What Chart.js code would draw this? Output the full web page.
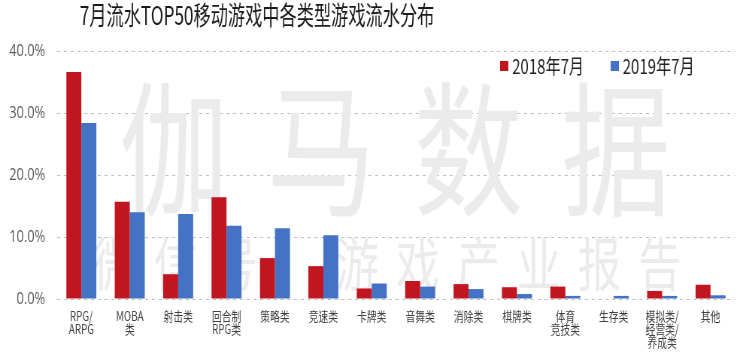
<!DOCTYPE html>
<html lang="zh-CN">
<head>
    <meta charset="UTF-8">
    <title>7月流水TOP50移动游戏中各类型游戏流水分布</title>
    <script src="https://cdn.jsdelivr.net/npm/chart.js@4.4.1/dist/chart.umd.min.js"></script>
    <style>
        html, body { margin: 0; padding: 0; background: #fff; overflow: hidden; }
        /* the source picture is squeezed sideways, so draw wide and compress */
        .wrap {
            width: 1000px;
            height: 354px;
            transform: scaleX(0.752);
            transform-origin: 0 0;
        }
    </style>
</head>
<body>
    <div class="wrap"><canvas id="genreChart"></canvas></div>

    <script>
        const categories = [
            ['RPG/', 'ARPG'], ['MOBA', '类'], '射击类', ['回合制', 'RPG类'], '策略类', '竞速类',
            '卡牌类', '音舞类', '消除类', '棋牌类', ['体育', '竞技类'], '生存类',
            ['模拟类/', '经营类/', '养成类'], '其他'
        ];
        const share2018 = [36.6, 15.7, 4.0, 16.4, 6.6, 5.3, 1.7, 2.9, 2.4, 1.9, 2.0, 0.0, 1.3, 2.3];
        const share2019 = [28.4, 14.0, 13.7, 11.8, 11.4, 10.3, 2.5, 2.0, 1.6, 0.8, 0.5, 0.5, 0.5, 0.6];
        const seriesNames = ['2018年7月', '2019年7月'];
        const yTicks = [0, 10, 20, 30, 40];

        const CJK = '"Noto Sans CJK SC", "Noto Sans", sans-serif';
        const RED = '#C1161F';
        const BLUE = '#4472C4';

        // title, legend and watermark
        const decor = {
            id: 'decor',
            beforeDatasetsDraw(chart) {
                const ctx = chart.ctx;
                ctx.save();
                ctx.fillStyle = '#ebebeb';
                ctx.textAlign = 'center';
                ctx.textBaseline = 'middle';
                ctx.font = '145px ' + CJK;
                '伽马数据'.split('').forEach((c, i) => ctx.fillText(c, 231 + i * 196, 150));
                ctx.font = '58px ' + CJK;
                '微信号：游戏产业报告'.split('').forEach((c, i) => ctx.fillText(c, 153 + i * 80.5, 264));
                ctx.restore();
            },
            afterDraw(chart) {
                const ctx = chart.ctx;
                ctx.save();
                ctx.textBaseline = 'middle';
                // title is narrower than its height suggests
                ctx.save();
                ctx.scale(0.88, 1);
                ctx.fillStyle = '#1a1a1a';
                ctx.font = '26px ' + CJK;
                ctx.fillText(chart.options.plugins.title.text, 106 / 0.88, 15);
                ctx.restore();

                ctx.font = '20px ' + CJK;
                let x = 665;
                chart.data.datasets.forEach(ds => {
                    ctx.fillStyle = ds.backgroundColor;
                    ctx.fillRect(x, 61, 11, 10);
                    ctx.fillStyle = '#222';
                    ctx.fillText(ds.label, x + 16, 66);
                    x += 147;
                });
                ctx.restore();
            }
        };

        new Chart(document.getElementById('genreChart'), {
            type: 'bar',
            data: {
                labels: categories,
                datasets: [
                    { label: seriesNames[0], data: share2018, backgroundColor: RED },
                    { label: seriesNames[1], data: share2019, backgroundColor: BLUE }
                ]
            },
            options: {
                responsive: true,
                maintainAspectRatio: false,
                animation: false,
                devicePixelRatio: 1,
                layout: { padding: { top: 51, right: 23, left: 0, bottom: 0 } },
                datasets: { bar: { categoryPercentage: 0.62, barPercentage: 1.0 } },
                plugins: {
                    legend: { display: false },
                    tooltip: { enabled: false },
                    title: { display: false, text: '7月流水TOP50移动游戏中各类型游戏流水分布' }
                },
                scales: {
                    x: {
                        grid: { display: false },
                        border: { display: false },
                        ticks: {
                            color: '#404040',
                            font: { family: CJK, size: 13, lineHeight: 1.0 },
                            padding: 3,
                            maxRotation: 0,
                            autoSkip: false
                        },
                        afterFit(scale) { scale.height = 55; }
                    },
                    y: {
                        min: 0,
                        max: 40,
                        afterBuildTicks(scale) { scale.ticks = yTicks.map(v => ({ value: v })); },
                        grid: { color: '#bdbdbd', lineWidth: 1, drawTicks: false },
                        border: { display: false, dash: [4, 5] },
                        ticks: {
                            color: '#595959',
                            font: { family: '"Open Sans", sans-serif', size: 17 },
                            padding: 16,
                            callback: v => v.toFixed(1) + '%'
                        },
                        afterFit(scale) { scale.width = 76; }
                    }
                }
            },
            plugins: [decor]
        });
    </script>
</body>
</html>
